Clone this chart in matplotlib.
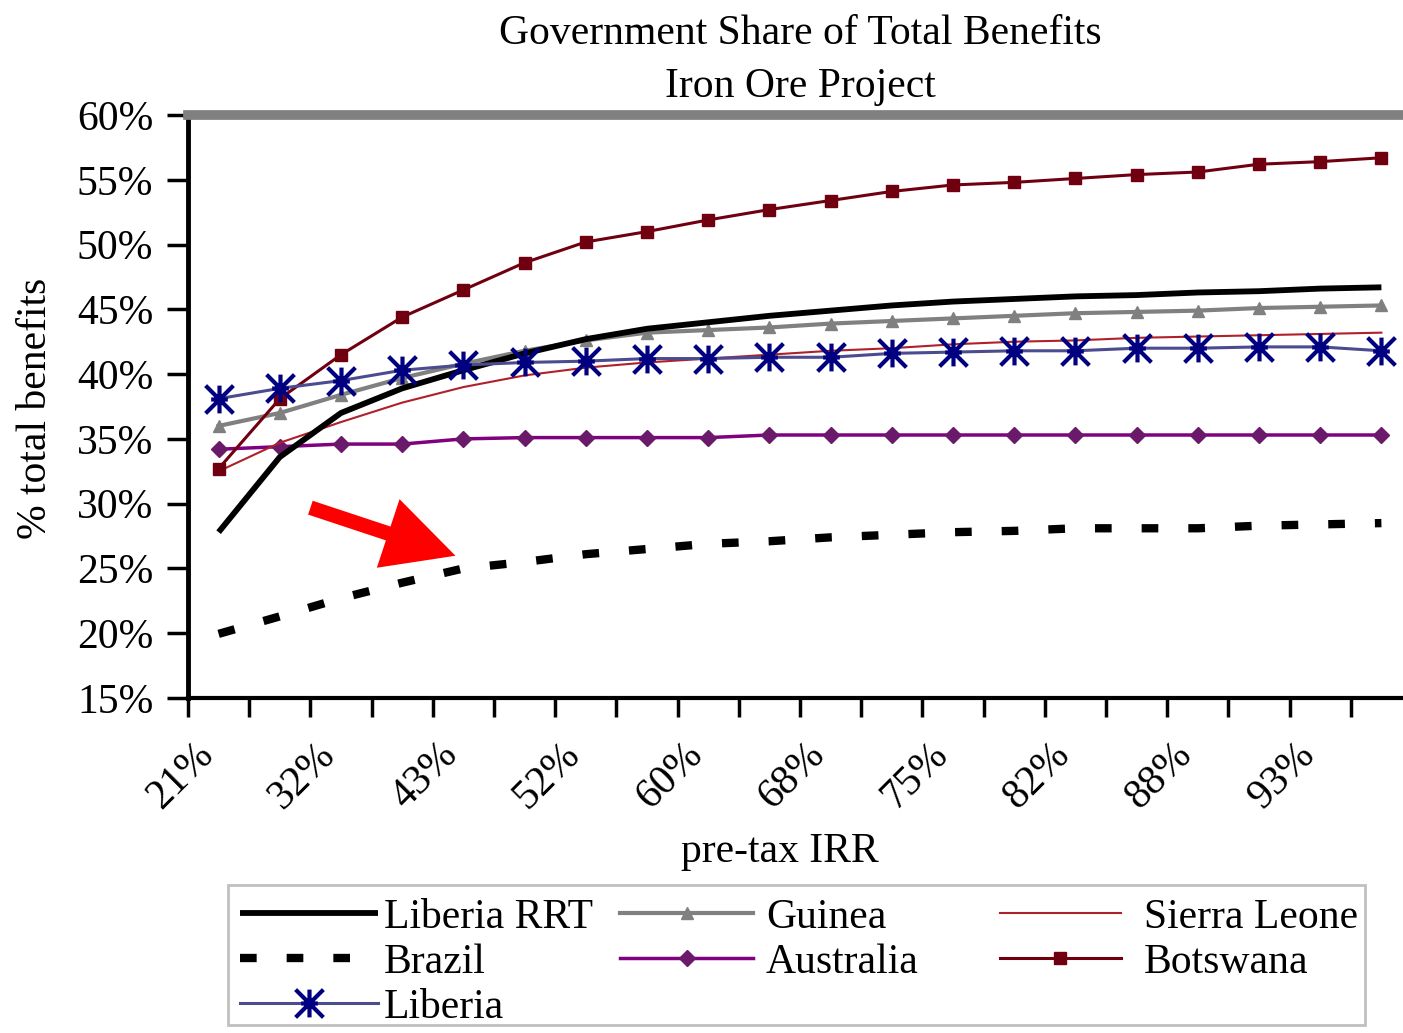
import matplotlib
matplotlib.use('Agg')
import matplotlib.pyplot as plt
from matplotlib.path import Path
from matplotlib.patches import Rectangle
from matplotlib.ticker import FuncFormatter
from matplotlib.transforms import ScaledTranslation
import numpy as np

# ---------------- data ----------------
irr_labels = ['21%', '', '32%', '', '43%', '', '52%', '', '60%', '',
              '68%', '', '75%', '', '82%', '', '88%', '', '93%', '']

liberia_rrt = [27.8, 33.6, 37.0, 38.9, 40.3, 41.6, 42.7, 43.5, 44.0, 44.5,
               44.9, 45.3, 45.6, 45.8, 46.0, 46.1, 46.3, 46.4, 46.6, 46.7]
brazil = [19.95, 21.3, 22.7, 23.9, 25.0, 25.5, 26.1, 26.5, 26.9, 27.1,
          27.4, 27.6, 27.8, 27.9, 28.1, 28.1, 28.1, 28.3, 28.4, 28.5]
liberia = [38.1, 38.9, 39.5, 40.3, 40.7, 40.9, 41.0, 41.2, 41.2, 41.3,
           41.3, 41.6, 41.7, 41.8, 41.8, 42.0, 42.0, 42.1, 42.1, 41.8]
guinea = [36.0, 37.0, 38.4, 39.7, 40.8, 41.8, 42.6, 43.2, 43.4, 43.6,
          43.9, 44.1, 44.3, 44.5, 44.7, 44.8, 44.9, 45.1, 45.2, 45.3]
australia = [34.2, 34.4, 34.6, 34.6, 35.0, 35.1, 35.1, 35.1, 35.1, 35.3,
             35.3, 35.3, 35.3, 35.3, 35.3, 35.3, 35.3, 35.3, 35.3, 35.3]
sierra_leone = [32.5, 34.7, 36.3, 37.8, 39.0, 39.9, 40.5, 40.9, 41.2, 41.5,
                41.8, 42.0, 42.3, 42.5, 42.6, 42.8, 42.9, 43.0, 43.1, 43.2]
botswana = [32.7, 38.1, 41.5, 44.4, 46.5, 48.6, 50.2, 51.0, 51.9, 52.7,
            53.4, 54.1, 54.6, 54.8, 55.1, 55.4, 55.6, 56.2, 56.4, 56.7]

# ---------------- style ----------------
plt.rcParams['font.family'] = ['Liberation Serif', 'DejaVu Serif']
FS = 30
W, H = 1403, 1033

fig = plt.figure(figsize=(W / 100, H / 100), dpi=100)
ax = fig.add_axes([188 / W, 1 - 698 / H, 1224 / W, (698 - 115) / H])
ax.set_facecolor('white')

x = np.arange(len(liberia_rrt))

star = Path([(0, -1), (0, 1), (-1, -1), (1, 1), (-1, 1), (1, -1), (-0.6, 0), (0.6, 0)],
            [Path.MOVETO, Path.LINETO, Path.MOVETO, Path.LINETO,
             Path.MOVETO, Path.LINETO, Path.MOVETO, Path.LINETO])

l_rrt, = ax.plot(x, liberia_rrt, color='black', lw=4.2, label='Liberia RRT',
                 solid_capstyle='butt', zorder=5)
l_bra, = ax.plot(x, brazil, color='black', lw=6, dashes=(2.0, 3.6),
                 dash_capstyle='butt', label='Brazil', zorder=5)
l_lib, = ax.plot(x, liberia, color='#4B4B8F', lw=2.2, marker=star, ms=20,
                 mec='#000080', mew=3, mfc='none', label='Liberia', zorder=6)
l_gui, = ax.plot(x, guinea, color='#808080', lw=3, marker='^', ms=8,
                 mfc='#808080', mec='#808080', label='Guinea', zorder=4)
l_aus, = ax.plot(x, australia, color='#800080', lw=2.5, marker='D', ms=8,
                 mfc='#6B1A6B', mec='#6B1A6B', label='Australia', zorder=4)
l_sie, = ax.plot(x, sierra_leone, color='#B0202A', lw=1.5,
                 label='Sierra Leone', zorder=4)
l_bot, = ax.plot(x, botswana, color='#700010', lw=2.2, marker='s', ms=9,
                 mfc='#700010', mec='#700010', label='Botswana', zorder=4)

# red arrow annotation
ax.annotate('', xy=(3.87, 25.98), xytext=(1.50, 29.69),
            arrowprops=dict(arrowstyle='simple,head_length=5.1,head_width=5.2,tail_width=1.05',
                            mutation_scale=10, fc='#FF0000', ec='none', lw=0,
                            shrinkA=0, shrinkB=0), zorder=8)

# axes
ax.set_xlim(-0.5, 19.5)
ax.set_ylim(15, 60)
ax.set_yticks(np.arange(15, 61, 5))
ax.yaxis.set_major_formatter(FuncFormatter(lambda v, p: f'{v:.0f}%'))
ax.tick_params(axis='y', direction='out', length=15, width=2.5, pad=10,
               labelsize=FS, colors='black')

ax.set_xticks(np.arange(-0.5, 20, 1))
ax.set_xticklabels([])
ax.tick_params(axis='x', which='major', direction='out', length=14, width=2.5)
ax.set_xticks(x, minor=True)
ax.set_xticklabels(irr_labels, minor=True, rotation=45, ha='right', va='top',
                   rotation_mode='anchor', fontsize=FS)
ax.tick_params(axis='x', which='minor', length=0, pad=27)
offset = ScaledTranslation(-18 / 72, 0, fig.dpi_scale_trans)
for lab in ax.get_xticklabels(minor=True):
    lab.set_transform(lab.get_transform() + offset)

ax.spines['right'].set_visible(False)
ax.spines['top'].set_color('#808080')
ax.spines['top'].set_linewidth(7)
ax.spines['left'].set_color('black')
ax.spines['left'].set_linewidth(3.5)
ax.spines['bottom'].set_color('black')
ax.spines['bottom'].set_linewidth(3)

# titles and labels
fig.text(800 / W, 1 - 34 / H, 'Government Share of Total Benefits',
         ha='center', va='center', fontsize=FS)
fig.text(800 / W, 1 - 87 / H, 'Iron Ore Project',
         ha='center', va='center', fontsize=FS)
fig.text(36 / W, 1 - 408 / H, '% total benefits', rotation=90,
         ha='center', va='center', fontsize=FS)
fig.text(780 / W, 1 - 852 / H, 'pre-tax IRR', ha='center', va='center',
         fontsize=FS)

# legend: three columns
cols = [([l_rrt, l_bra, l_lib], 240, 3.3, 0.15),
        ([l_gui, l_aus], 620, 3.2, 0.3),
        ([l_sie, l_bot], 1000, 2.9, 0.55)]
for handles, x0, hl, tp in cols:
    fig.legend(handles=handles, labels=[h.get_label() for h in handles],
               loc='upper left', bbox_to_anchor=(x0 / W, 1 - 898 / H),
               bbox_transform=fig.transFigure, frameon=False,
               fontsize=FS, handlelength=hl, handletextpad=tp,
               borderpad=0, borderaxespad=0, labelspacing=0.16,
               numpoints=1)

fig.add_artist(Rectangle((228 / W, 1 - 1025 / H), (1365 - 228) / W,
                         (1025 - 885) / H, transform=fig.transFigure,
                         fill=False, edgecolor='#C0C0C0', lw=2))

fig.savefig('out.png', dpi=100, facecolor='white')
